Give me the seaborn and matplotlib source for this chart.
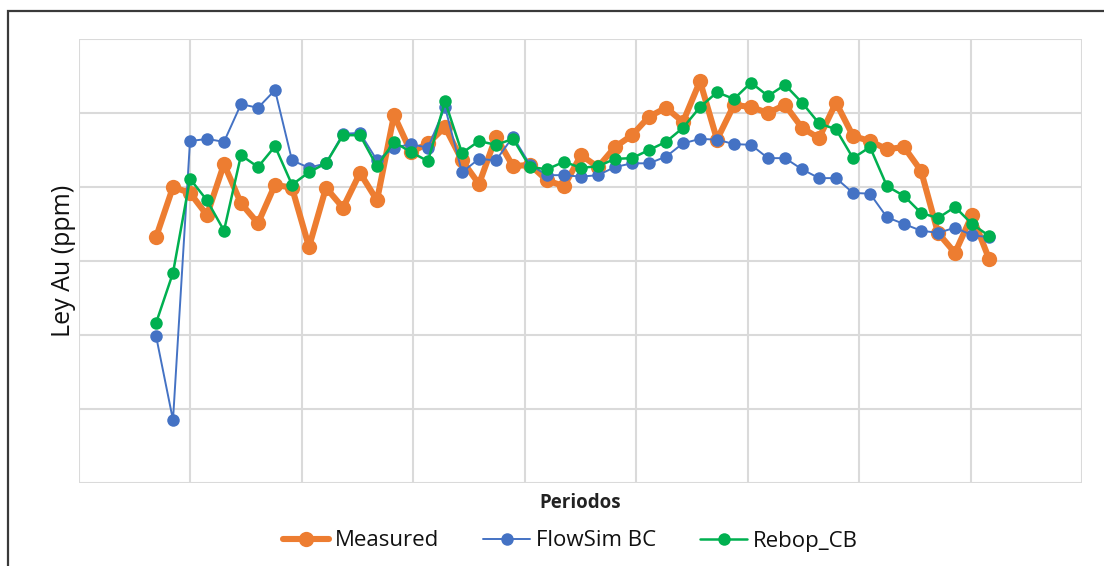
import numpy as np
import pandas as pd
import matplotlib
matplotlib.use("Agg")
import matplotlib.pyplot as plt
from matplotlib.patches import Rectangle
import seaborn as sns

# Gold grade per period for the measured values and the two simulations
periods = list(range(1, 51))

measured = [3.32, 4.00, 3.92, 3.62, 4.31, 3.78, 3.51, 4.03, 3.99, 3.19,
            3.99, 3.72, 4.19, 3.82, 4.97, 4.47, 4.59, 4.81, 4.36, 4.04,
            4.68, 4.28, 4.30, 4.09, 4.01, 4.43, 4.27, 4.54, 4.70, 4.95,
            5.07, 4.88, 5.43, 4.64, 5.11, 5.08, 5.00, 5.11, 4.80, 4.66,
            5.14, 4.69, 4.62, 4.51, 4.54, 4.22, 3.38, 3.11, 3.62, 3.03]

flowsim_bc = [1.99, 0.85, 4.62, 4.65, 4.61, 5.12, 5.07, 5.31, 4.36, 4.26,
              4.32, 4.72, 4.73, 4.36, 4.53, 4.58, 4.53, 5.08, 4.20, 4.38,
              4.36, 4.68, 4.30, 4.16, 4.16, 4.14, 4.16, 4.27, 4.32, 4.32,
              4.41, 4.59, 4.65, 4.64, 4.58, 4.57, 4.39, 4.39, 4.24, 4.12,
              4.12, 3.92, 3.91, 3.59, 3.50, 3.41, 3.38, 3.45, 3.35, 3.32]

rebop_cb = [2.16, 2.84, 4.11, 3.82, 3.41, 4.43, 4.27, 4.55, 4.03, 4.20,
            4.32, 4.70, 4.70, 4.28, 4.61, 4.47, 4.35, 5.16, 4.46, 4.62,
            4.57, 4.65, 4.27, 4.24, 4.34, 4.26, 4.28, 4.38, 4.39, 4.50,
            4.61, 4.80, 5.08, 5.28, 5.19, 5.41, 5.23, 5.38, 5.14, 4.86,
            4.78, 4.39, 4.54, 4.01, 3.88, 3.65, 3.58, 3.73, 3.50, 3.34]

series_names = ["Measured", "FlowSim BC", "Rebop_CB"]

df = pd.DataFrame({"Periodo": periods,
                   "Measured": measured,
                   "FlowSim BC": flowsim_bc,
                   "Rebop_CB": rebop_cb})

sns.set_theme(style="white")
plt.rcParams["font.family"] = ["Open Sans", "DejaVu Sans"]

fig = plt.figure(figsize=(11.04, 5.66), dpi=100)
ax = fig.add_axes([79 / 1104, 1 - 483 / 566, 1003 / 1104, 444 / 566])

styles = {
    "Measured":   dict(color="#ED7D31", lw=4.4, ms=11),
    "FlowSim BC": dict(color="#4472C4", lw=1.4, ms=9),
    "Rebop_CB":   dict(color="#00B050", lw=1.8, ms=9),
}

for name in series_names:
    st = styles[name]
    sns.lineplot(data=df, x="Periodo", y=name, ax=ax, color=st["color"],
                 linewidth=st["lw"], marker="o", markersize=st["ms"],
                 markeredgewidth=0, label=name, legend=False, zorder=3)

# Axis limits and gridlines
xmin, xmax = 1 - 77 / 17, 1 + 926 / 17
ax.set_xlim(xmin, xmax)
ax.set_ylim(0, 6)
ax.set_xticks(np.linspace(xmin, xmax, 10))
ax.set_yticks(np.arange(0, 7, 1))
ax.set_xticklabels([])
ax.set_yticklabels([])
ax.tick_params(length=0)
ax.grid(True, color="#dadada", linewidth=1.5, zorder=0)
ax.set_axisbelow(True)
for sp in ax.spines.values():
    sp.set_visible(False)

ax.set_xlabel("Periodos", fontsize=13.5, fontweight="bold", color="#222222",
              labelpad=4)
ax.set_ylabel("Ley Au (ppm)", fontsize=18, color="#111111", labelpad=-1)

handles, labels = ax.get_legend_handles_labels()
leg = fig.legend(handles, labels, loc="center", bbox_to_anchor=(570 / 1104, 1 - 541 / 566),
                 ncol=3, frameon=False, fontsize=16, handlelength=2.1,
                 columnspacing=2.0, handletextpad=0.25, numpoints=1)
for t in leg.get_texts():
    t.set_color("#111111")

# Chart frame
fig.patches.append(Rectangle((8 / 1104, -0.02), 1.02, 1 - 11 / 566 + 0.02,
                             transform=fig.transFigure, fill=False,
                             edgecolor="#3a3a3a", linewidth=1.6, zorder=10))

fig.savefig("out.png", dpi=100)
